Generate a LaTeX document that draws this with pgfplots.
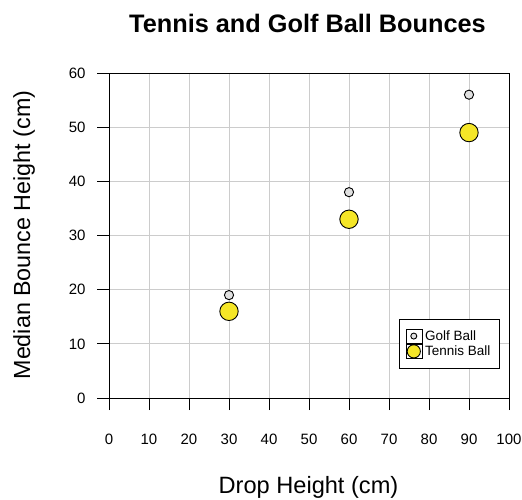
\documentclass[border=0pt]{standalone}
\usepackage{pgfplots}
\pgfplotsset{compat=1.18}
\usepackage{fontspec}
\setmainfont{Liberation Sans}
\definecolor{gridgray}{HTML}{CCCCCC}
\definecolor{golffill}{HTML}{E0E0E0}
\definecolor{tennisfill}{HTML}{F5E627}
\begin{document}
\begin{tikzpicture}[x=1pt,y=1pt]
\path[use as bounding box] (0,0) rectangle (522,499);
\begin{axis}[
  at={(109pt,101pt)}, anchor=south west,
  scale only axis, width=400pt, height=325pt,
  xmin=0, xmax=100, ymin=0, ymax=60,
  xtick={0,10,...,100}, ytick={0,10,...,60},
  xtick pos=bottom, ytick pos=left,
  grid=major, major grid style={gridgray, line width=0.8pt},
  axis line style={black, line width=0.9pt},
  tick style={black, line width=0.9pt},
  tick align=outside, major tick length=12pt,
  tick label style={font=\fontsize{15}{18}\selectfont},
  /pgf/number format/assume math mode=true,
  xticklabel style={yshift=-20pt},
  yticklabel style={xshift=-8pt},
  legend style={at={(0.725,0.243)}, anchor=north west, draw=black, line width=0.8pt,
    fill=white,
    font=\fontsize{13.5}{15}\selectfont, inner xsep=7pt, inner ysep=9pt,
    row sep=0pt, legend cell align=left,
    /tikz/every even column/.append style={column sep=4pt}},
  clip=false,
]
\addlegendimage{legend image code/.code={\draw[fill=golffill, draw=black, line width=0.9pt] (0pt,0pt) circle (3pt);\path (-7pt,-7pt) rectangle (9pt,7pt);}}
\addlegendentry{Golf Ball}
\addlegendimage{legend image code/.code={\draw[fill=tennisfill, draw=black, line width=0.9pt] (0pt,0pt) circle (6.6pt);\path (-7pt,-7pt) rectangle (9pt,7pt);}}
\addlegendentry{Tennis Ball}
\addplot[forget plot, only marks, mark=*, mark size=4.6pt, mark options={fill=golffill, draw=black, line width=0.9pt}]
  coordinates {(30,19) (60,38) (90,56)};
\addplot[forget plot, only marks, mark=*, mark size=9.2pt, mark options={fill=tennisfill, draw=black, line width=0.9pt}]
  coordinates {(30,16) (60,33) (90,49)};
\end{axis}
\node[font=\bfseries\fontsize{25.3}{30}\selectfont, anchor=base] at (307.5,466.5) {Tennis and Golf Ball Bounces};
\node[font=\fontsize{23.6}{28}\selectfont, anchor=base] at (308.5,6) {Drop Height (cm)};
\node[font=\fontsize{23.3}{28}\selectfont, anchor=base, rotate=90] at (30,264) {Median Bounce Height (cm)};
\end{tikzpicture}
\end{document}
